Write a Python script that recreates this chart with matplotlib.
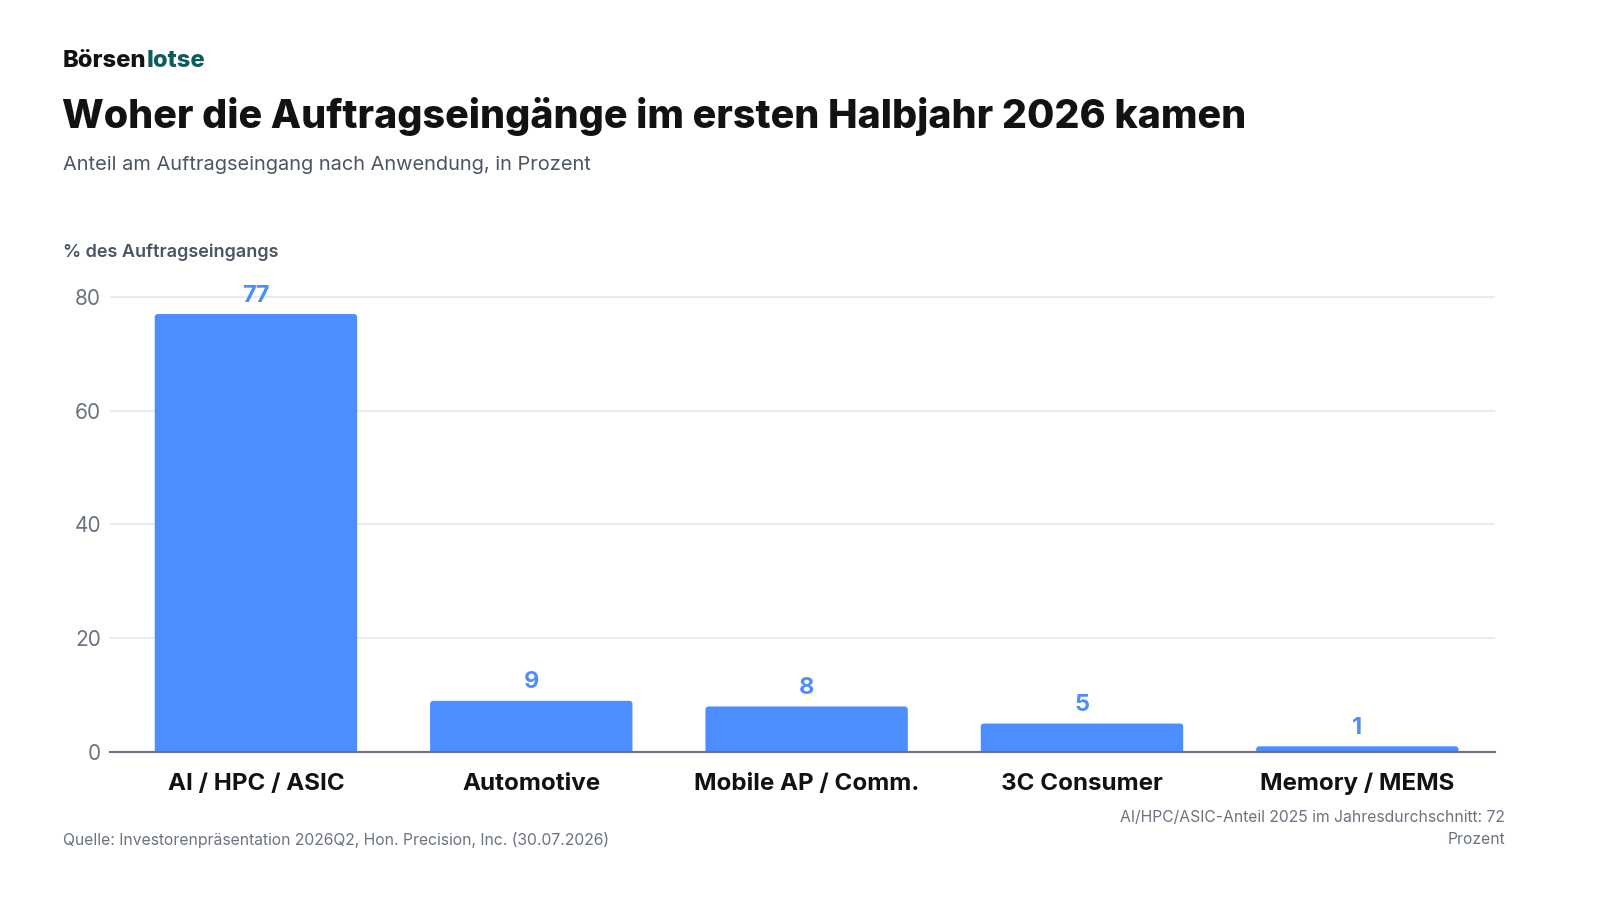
import matplotlib
matplotlib.use('Agg')
import matplotlib.pyplot as plt
from matplotlib.patches import FancyBboxPatch

plt.rcParams['font.family'] = ['Inter', 'DejaVu Sans']

categories = ['AI / HPC / ASIC', 'Automotive', 'Mobile AP / Comm.', '3C Consumer', 'Memory / MEMS']
shares = [77, 9, 8, 5, 1]
y_ticks = [0, 20, 40, 60, 80]

blue = '#4C8DFF'
gray = '#6B7280'
dark = '#121212'

W, H = 1600, 900
fig = plt.figure(figsize=(16, 9), dpi=100)
fig.patch.set_facecolor('white')


def fx(x):
    return x / W


def fy(y):
    return 1 - y / H


ax = fig.add_axes([fx(110), fy(752), fx(1495) - fx(110), fy(285.6) - fy(752)])
ax.set_xlim(-0.53, 4.5)
ax.set_ylim(0, 82)

pos = list(range(len(categories)))
bars = ax.bar(pos, shares, width=0.735, color=blue, zorder=3)

# rounded top corners: replace rectangles with fancy boxes
px_per_unit_y = (752 - 285.6) / 82
px_per_unit_x = 1385 / 5.03
asp = px_per_unit_x / px_per_unit_y
for b in bars:
    b.set_visible(False)
    r = 3 / px_per_unit_x
    p = FancyBboxPatch((b.get_x() + r, 0), b.get_width() - 2 * r, b.get_height() - r * asp,
                       boxstyle=f'round,pad={r}', mutation_aspect=asp,
                       facecolor=blue, edgecolor='none', zorder=3)
    ax.add_patch(p)

for x, v in zip(pos, shares):
    ax.text(x, v + 1.3, str(v), ha='center', va='bottom', fontsize=17,
            fontweight='bold', color=blue, zorder=4)

ax.set_yticks(y_ticks)
ax.set_yticklabels([str(t) for t in y_ticks], fontsize=15, color=gray)
ax.set_xticks(pos)
ax.set_xticklabels(categories, fontsize=17.4, fontweight='bold', color=dark)
ax.tick_params(axis='y', length=0, pad=6.5)
ax.tick_params(axis='x', length=0, pad=15)
ax.grid(axis='y', color='#E5E7EB', linewidth=1.2, zorder=0)
for s in ['top', 'right', 'left']:
    ax.spines[s].set_visible(False)
ax.spines['bottom'].set_color(gray)
ax.spines['bottom'].set_linewidth(1.5)
ax.spines['bottom'].set_zorder(5)

# header
fig.canvas.draw()
renderer = fig.canvas.get_renderer()
t1 = fig.text(fx(63), fy(61), 'Börsen', fontsize=17.1, fontweight='heavy', color=dark, va='center')
bb = t1.get_window_extent(renderer=renderer)
fig.text(bb.x1 / W, fy(61), 'lotse', fontsize=17.1, fontweight='heavy', color='#0E5C5C', va='center')

fig.text(fx(62), fy(117), 'Woher die Auftragseingänge im ersten Halbjahr 2026 kamen',
         fontsize=28.4, fontweight='heavy', color=dark, va='center')
fig.text(fx(63), fy(165), 'Anteil am Auftragseingang nach Anwendung, in Prozent',
         fontsize=14.4, color='#4B5563', va='center')
fig.text(fx(63), fy(252), '% des Auftragseingangs', fontsize=13, fontweight='semibold',
         color='#4B5563', va='center')

# footer
fig.text(fx(63), fy(840), 'Quelle: Investorenpräsentation 2026Q2, Hon. Precision, Inc. (30.07.2026)',
         fontsize=11.3, color=gray, va='center')
fig.text(fx(1505), fy(817), 'AI/HPC/ASIC-Anteil 2025 im Jahresdurchschnitt: 72',
         fontsize=11.3, color=gray, va='center', ha='right')
fig.text(fx(1505), fy(840), 'Prozent', fontsize=11.3, color=gray, va='center', ha='right')

fig.savefig('out.png', dpi=100, facecolor='white')
